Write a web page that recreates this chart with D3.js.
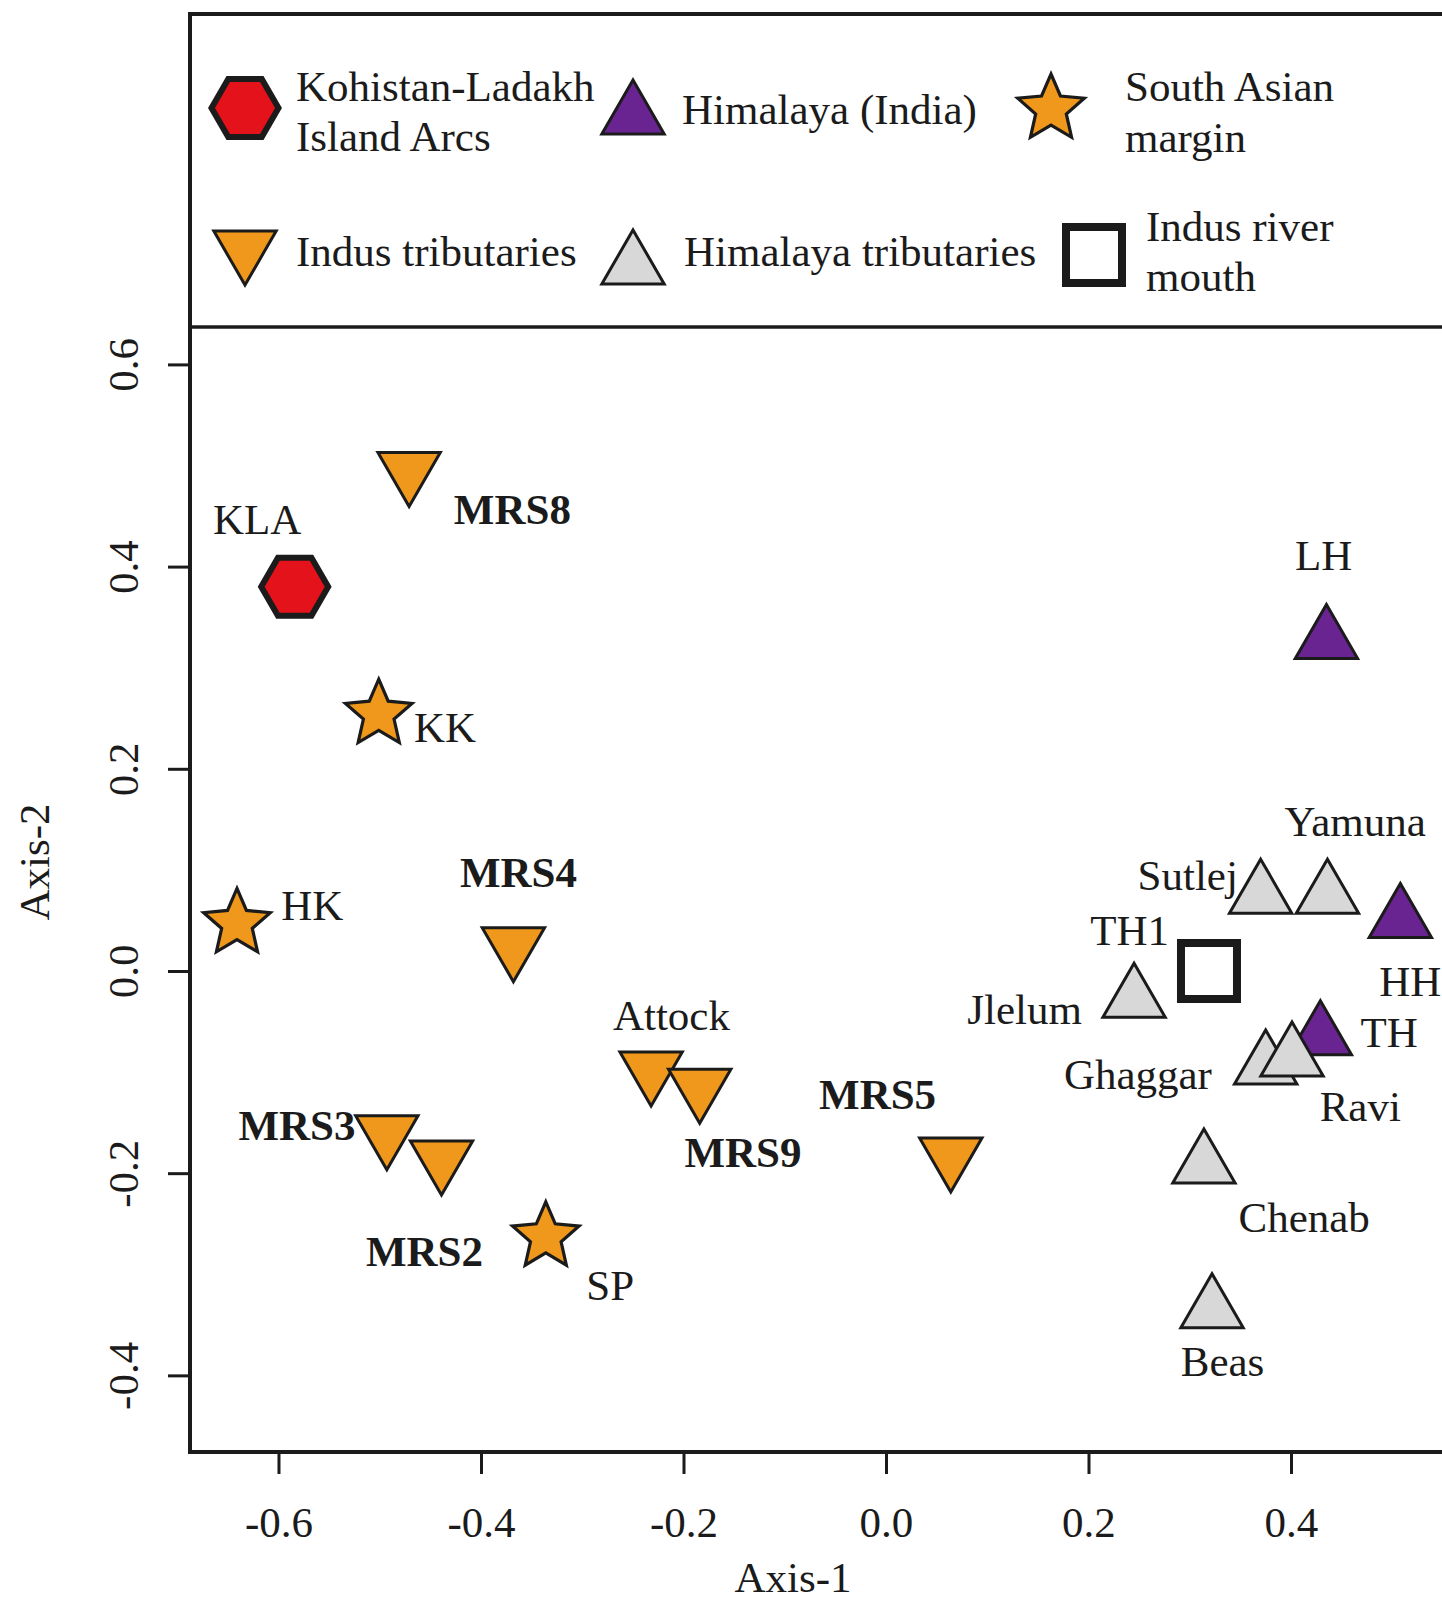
<!DOCTYPE html>
<html>
<head>
<meta charset="utf-8">
<script src="https://cdn.jsdelivr.net/npm/d3@7"></script>
<style>
  html, body { margin: 0; padding: 0; background: #fff; }
  svg { display: block; font-family: "Liberation Serif", "Times New Roman", serif; }
</style>
</head>
<body>
<svg id="chart" width="1442" height="1600"></svg>
<script>
// Ordination scores (Axis-1, Axis-2) for each sample, in drawing order
const sampleNames = ["KLA","KK","HK","SP","MRS8","MRS4","Attock","MRS9","MRS3","MRS2","MRS5",
  "LH","HH","TH","Sutlej","Yamuna","Jlelum","Ghaggar","Ravi","Chenab","Beas","TH1"];
const sampleGroup = ["kla","sam","sam","sam","indus","indus","indus","indus","indus","indus","indus",
  "himIndia","himIndia","himIndia","himTrib","himTrib","himTrib","himTrib","himTrib","himTrib","himTrib","mouth"];
const axis1 = [-0.584,-0.501,-0.641,-0.336,-0.471,-0.368,-0.232,-0.184,-0.493,-0.439,0.064,
  0.435,0.508,0.429,0.370,0.436,0.245,0.375,0.401,0.314,0.322,0.319];
const axis2 = [0.380,0.254,0.047,-0.263,0.495,0.025,-0.098,-0.115,-0.161,-0.186,-0.183,
  0.327,0.051,-0.065,0.075,0.075,-0.028,-0.094,-0.086,-0.192,-0.335,0.000];

// Where each sample name is written (axis units) and whether it is bold
const labelAxis1 = [-0.621,-0.4356,-0.5666,-0.2723,-0.369,-0.363,-0.2119,-0.1413,-0.5817,-0.4558,-0.0083,
  0.4322,0.5178,0.497,0.298,0.4634,0.1369,0.2488,0.4684,0.413,0.3324,0.2407];
const labelAxis2 = [0.446,0.241,0.064,-0.311,0.456,0.0974,-0.0439,-0.180,-0.153,-0.278,-0.1227,
  0.411,-0.0106,-0.061,0.094,0.148,-0.0389,-0.1025,-0.1347,-0.2438,-0.387,0.040];
const labelBold = [false,false,false,false,true,true,false,true,true,true,true,
  false,false,false,false,false,false,false,false,false,false,false];

// Groups and legend entries
const groupKeys = ["kla","himIndia","sam","indus","himTrib","mouth"];
const groupText = [["Kohistan-Ladakh","Island Arcs"],["Himalaya (India)"],["South Asian","margin"],
  ["Indus tributaries"],["Himalaya tributaries"],["Indus river","mouth"]];
const groupShape = ["hexagon","triangleUp","star","triangleDown","triangleUp","square"];
const groupFill = ["#e4121b","#6a2491","#f0981b","#f0981b","#d8d8d8","none"];

// Axis tick values
const xTicks = [-0.6,-0.4,-0.2,0.0,0.2,0.4];
const yTicks = [-0.4,-0.2,0.0,0.2,0.4,0.6];

// ---- drawing ----
const svg = d3.select("#chart");
const ink = "#1b1b1b";
const fontSize = 43;

const x = d3.scaleLinear().domain([-0.6874, 0.56]).range([190, 1453]);
const y = d3.scaleLinear().domain([-0.4758, 0.9466]).range([1452, 14]);
const legendBottom = 327;

// marker shapes, centred on the sample position
const shapes = {
  triangleUp: () => { const r = 36, h = r * Math.sqrt(3) / 2;
    return `M0,${-r}L${h},${r/2}L${-h},${r/2}Z`; },
  triangleDown: () => { const r = 36, h = r * Math.sqrt(3) / 2;
    return `M0,${r}L${h},${-r/2}L${-h},${-r/2}Z`; },
  hexagon: () => { const R = 33.5;
    return "M" + d3.range(6).map(i => {
      const a = i * Math.PI / 3; return [R * Math.cos(a), R * Math.sin(a)];
    }).join("L") + "Z"; },
  star: () => { const R = 35, r = R * 0.46;
    return "M" + d3.range(10).map(i => {
      const a = -Math.PI / 2 + i * Math.PI / 5, rr = i % 2 ? r : R;
      return [rr * Math.cos(a), rr * Math.sin(a)];
    }).join("L") + "Z"; },
  square: () => { const s = 28; return `M${-s},${-s}H${s}V${s}H${-s}Z`; }
};
const strokeW = { hexagon: 6, square: 8, triangleUp: 3, triangleDown: 3, star: 3.2 };

function marker(g, gi) {
  const shape = groupShape[gi];
  g.append("path")
    .attr("d", shapes[shape]())
    .attr("fill", groupFill[gi])
    .attr("stroke", ink)
    .attr("stroke-width", strokeW[shape])
    .attr("stroke-linejoin", "miter");
}

// axes
const xAxis = d3.axisBottom(x).tickValues(xTicks).tickFormat(d => d.toFixed(1))
  .tickSizeOuter(0).tickSizeInner(22).tickPadding(0);
const gx = svg.append("g").attr("transform", `translate(0,${y.range()[0]})`).call(xAxis);
gx.select(".domain").remove();
gx.selectAll(".tick line").attr("stroke", ink).attr("stroke-width", 3);
gx.selectAll(".tick text").attr("y", 85).attr("dy", null)
  .attr("font-size", fontSize).attr("font-family", "Liberation Serif").attr("fill", ink);

const yAxis = d3.axisLeft(y).tickValues(yTicks).tickFormat(d => d.toFixed(1))
  .tickSizeOuter(0).tickSizeInner(22).tickPadding(0);
const gy = svg.append("g").attr("transform", `translate(${x.range()[0]},0)`).call(yAxis);
gy.select(".domain").remove();
gy.selectAll(".tick line").attr("stroke", ink).attr("stroke-width", 3);
gy.selectAll(".tick text")
  .attr("x", null).attr("dy", null)
  .attr("text-anchor", "middle")
  .attr("transform", "translate(-52,0) rotate(-90)")
  .attr("font-size", fontSize).attr("font-family", "Liberation Serif").attr("fill", ink);

// axis titles
svg.append("text").attr("x", 793).attr("y", 1592).attr("text-anchor", "middle")
  .attr("font-size", fontSize).attr("fill", ink).text("Axis-1");
svg.append("text").attr("transform", "translate(49,862) rotate(-90)").attr("text-anchor", "middle")
  .attr("font-size", fontSize).attr("fill", ink).text("Axis-2");

// frame and legend divider
const [x0, x1] = x.range(), [yb, yt] = y.range();
svg.append("rect").attr("x", x0).attr("y", yt).attr("width", x1 - x0).attr("height", yb - yt)
  .attr("fill", "none").attr("stroke", ink).attr("stroke-width", 4);
svg.append("line").attr("x1", x0).attr("x2", x1).attr("y1", legendBottom).attr("y2", legendBottom)
  .attr("stroke", ink).attr("stroke-width", 3.5);

// points
const samples = sampleNames.map((name, i) => ({
  name, gi: groupKeys.indexOf(sampleGroup[i]), a1: axis1[i], a2: axis2[i],
  l1: labelAxis1[i], l2: labelAxis2[i], bold: labelBold[i]
}));
const pts = svg.append("g");
samples.forEach(d => {
  const g = pts.append("g").attr("transform", `translate(${x(d.a1)},${y(d.a2)})`);
  marker(g, d.gi);
});

// sample labels
svg.append("g").selectAll("text").data(samples).join("text")
  .attr("x", d => x(d.l1)).attr("y", d => y(d.l2)).attr("dy", "0.33em")
  .attr("text-anchor", "middle")
  .attr("font-size", fontSize)
  .attr("font-weight", d => d.bold ? "bold" : "normal")
  .attr("fill", ink)
  .text(d => d.name);

// legend
const legendSymbol = [[245,108],[633,116],[1051,109],[245,249],[633,266],[1094,255]];
const legendTextX = [296,682,1125,296,684,1146];
const legendTextY = [[86.7,136.8],[110],[86.7,137.8],[252],[252],[226.7,276.7]];
const leg = svg.append("g");
groupKeys.forEach((k, gi) => {
  const g = leg.append("g").attr("transform", `translate(${legendSymbol[gi][0]},${legendSymbol[gi][1]})`);
  marker(g, gi);
  groupText[gi].forEach((line, li) => {
    leg.append("text").attr("x", legendTextX[gi]).attr("y", legendTextY[gi][li]).attr("dy", "0.33em")
      .attr("font-size", fontSize).attr("fill", ink).text(line);
  });
});
</script>
</body>
</html>
